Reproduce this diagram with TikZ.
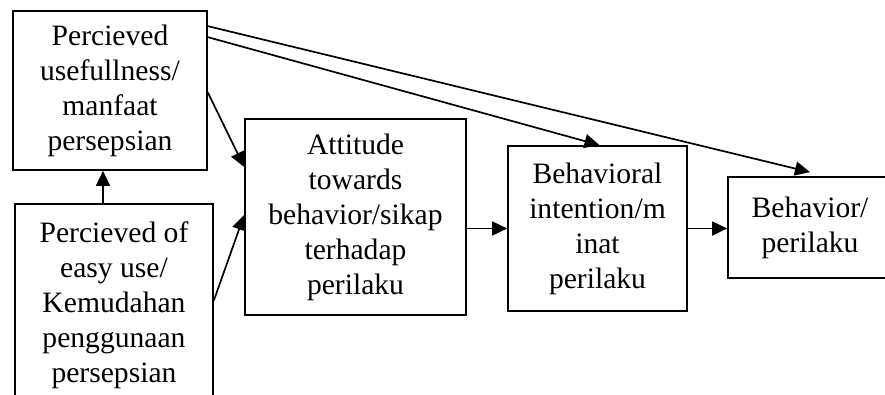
\documentclass[tikz,border=0pt]{standalone}
\usepackage{fontspec}
\setmainfont{Liberation Serif}
\usetikzlibrary{arrows.meta}
\tikzset {
  box/.style = {draw, line width=1.7pt, rectangle, align=center, inner sep=0pt, font=\fontsize{29.6}{35}\selectfont},
  line/.style = {line width=1.7pt, color=black, -{Triangle[length=15pt, width=14pt]}},
}

\begin{document}
\begin{tikzpicture}[x=1pt, y=1pt]
    \useasboundingbox (0,0) rectangle (885,394);
    \clip (0,0) rectangle (885,394);

    \node[box, minimum width=194pt, minimum height=159pt] (useful) at (110,303.5) {Percieved\\usefullness/\\manfaat\\persepsian};
    \node[box, minimum width=198pt, minimum height=203pt] (easy) at (114,88.5) {Percieved of\\easy use/\\Kemudahan\\penggunaan\\persepsian};
    \node[box, minimum width=221pt, minimum height=196pt] (attitude) at (355.5,177) {Attitude\\towards\\behavior/sikap\\terhadap\\perilaku};
    \node[box, minimum width=179pt, minimum height=165pt] (intention) at (597.5,165.5) {Behavioral\\intention/m\\inat\\perilaku};
    \node[box, minimum width=164pt, minimum height=101pt] (behavior) at (810,166.5) {Behavior/\\perilaku};

    \draw[line] ([xshift=-11pt]easy.north) -- ([xshift=-7pt]useful.south);
    \draw[line] ([yshift=-2pt]useful.east) -- ([yshift=50pt]attitude.west);
    \draw[line] ([yshift=5pt]easy.east) -- ([yshift=2pt]attitude.west);
    \draw[line] ([yshift=-16pt]useful.north east) -- ([yshift=4pt]behavior.north);
    \draw[line] ([yshift=-27pt]useful.north east) -- ([xshift=2pt]intention.north);
    \draw[line] (attitude.east |- intention.west) -- (intention.west);
    \draw[line] (intention.east) -- (intention.east -| behavior.west);

\end{tikzpicture}
\end{document}
